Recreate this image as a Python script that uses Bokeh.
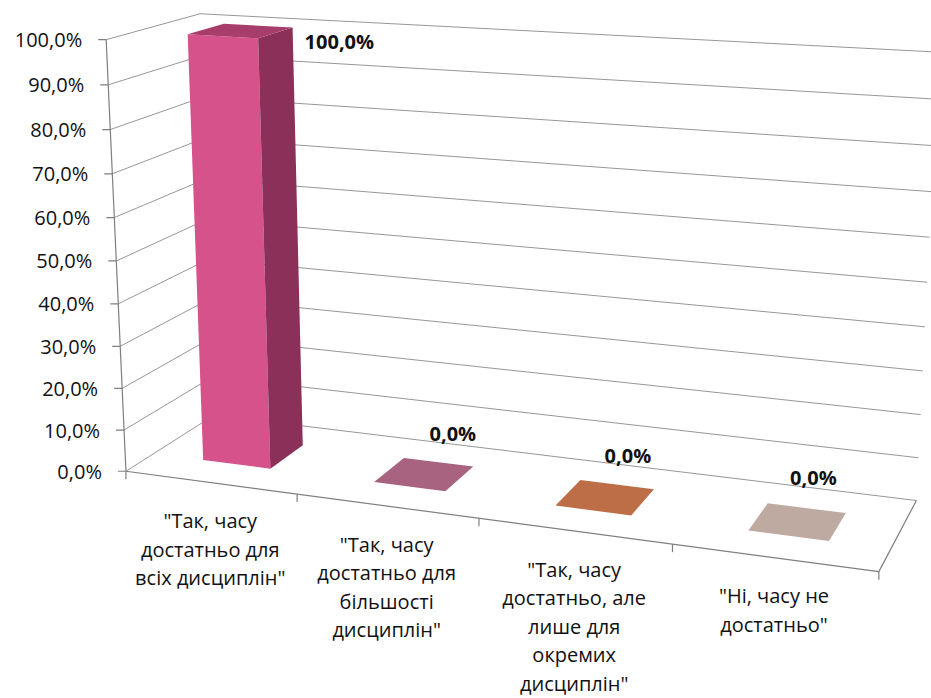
import numpy as np
from bokeh.plotting import figure
from bokeh.models import Range1d
from bokeh.embed import file_html
from bokeh.resources import INLINE
from bokeh.core.properties import value

# ---------------- data ----------------
categories = [
    '"Так, часу\nдостатньо для\nвсіх дисциплін"',
    '"Так, часу\nдостатньо для\nбільшості\nдисциплін"',
    '"Так, часу\nдостатньо, але\nлише для\nокремих\nдисциплін"',
    '"Ні, часу не\nдостатньо"',
]
values = [100.0, 0.0, 0.0, 0.0]
data_labels = ["100,0%", "0,0%", "0,0%", "0,0%"]
y_ticks = [0, 10, 20, 30, 40, 50, 60, 70, 80, 90, 100]
y_tick_labels = ["0,0%", "10,0%", "20,0%", "30,0%", "40,0%", "50,0%",
                 "60,0%", "70,0%", "80,0%", "90,0%", "100,0%"]

# ---------------- style ----------------
front_colors = ["#D5528A", "#A86380", "#BE6E46", "#BEAAA0"]
side_colors = ["#8A3059", "#7A4058", "#8A4E30", "#8E7E78"]
top_colors = ["#A63D6B", "#A86380", "#BE6E46", "#BEAAA0"]
grid_color = "#979797"
axis_color = "#7F7F7F"
text_color = "#111111"
FONT = "Open Sans"
bar_w = 0.40          # fraction of category width
bar_d0, bar_d1 = 0.30, 0.70   # depth extent of bars (0 = front, 1 = back wall)
N = len(categories)
VMAX = 100.0

# ---------------- 3-D camera (perspective, fitted from the frame geometry) ----
cal_world = []
cal_screen = []
front_v = [470, 428, 387, 346, 303, 260, 217, 173, 128, 83, 40]
back_v = [499, 456, 414, 370, 325, 282, 237, 192, 146, 99, 52]
for i, t in enumerate(y_ticks):
    z = t / VMAX
    cal_world.append((0, 0, z)); cal_screen.append((127 - 22 * z, front_v[i]))
    cal_world.append((N, 1, z)); cal_screen.append((916 + 22 * z, back_v[i]))
for k, (u, v) in zip([1, 2, 3, 4], [(295, 498), (478, 520), (670, 545), (879, 569)]):
    cal_world.append((k, 0, 0)); cal_screen.append((u, v))
cal_world.append((0, 1, 1)); cal_screen.append((200, 14))
cal_world.append((0, 1, 0)); cal_screen.append((212, 415))


def fit_camera(world, screen):
    rows = []
    for (X, Y, Z), (u, v) in zip(world, screen):
        u, v = u / 1000.0, v / 1000.0
        rows.append([X, Y, Z, 1, 0, 0, 0, 0, -u * X, -u * Y, -u * Z, -u])
        rows.append([0, 0, 0, 0, X, Y, Z, 1, -v * X, -v * Y, -v * Z, -v])
    _, _, vt = np.linalg.svd(np.array(rows, float))
    return vt[-1].reshape(3, 4)


P = fit_camera(cal_world, cal_screen)


def proj(X, Y, val):
    h = P @ np.array([X, Y, val / VMAX, 1.0])
    return 1000.0 * h[0] / h[2], 1000.0 * h[1] / h[2]


def poly(pts):
    xy = [proj(*q) for q in pts]
    return [a for a, _ in xy], [b for _, b in xy]


# ---------------- figure ----------------
W, H = 931, 698
p = figure(width=W, height=H, x_range=Range1d(0, W), y_range=Range1d(H, 0),
           output_backend="svg", toolbar_location=None, min_border=0)
p.axis.visible = False
p.grid.visible = False
p.outline_line_color = None
p.background_fill_color = "white"
p.border_fill_color = "white"

# gridlines on left wall and back wall
gx, gy = [], []
for t in y_ticks:
    a = proj(0, 0, t); b = proj(0, 1, t); c = proj(N, 1, t)
    gx.append([a[0], b[0], c[0]]); gy.append([a[1], b[1], c[1]])
p.multi_line(gx, gy, line_color=grid_color, line_width=1)

# floor edges
fx, fy = poly([(0, 0, 0), (N, 0, 0), (N, 1, 0)])
p.line(fx, fy, line_color=axis_color, line_width=1.2)
# value axis (front-left edge)
vx, vy = poly([(0, 0, 0), (0, 0, VMAX)])
p.line(vx, vy, line_color=axis_color, line_width=1.2)

# ticks
tx0, ty0, tx1, ty1 = [], [], [], []
for t in y_ticks:
    x, y = proj(0, 0, t)
    tx0.append(x); ty0.append(y); tx1.append(x - 8); ty1.append(y)
for k in range(N + 1):
    x, y = proj(k, 0, 0)
    tx0.append(x); ty0.append(y); tx1.append(x); ty1.append(y + 8)
p.segment(tx0, ty0, tx1, ty1, line_color=axis_color, line_width=1.2)

# y tick labels
lx, ly = zip(*[proj(0, 0, t) for t in y_ticks])
p.text([x - 24 for x in lx], list(ly), text=y_tick_labels, text_font=value(FONT),
       text_font_size="20px", text_color=text_color, text_align="right",
       text_baseline="middle")

# bars
for i, v in enumerate(values):
    x0 = i + 0.5 - bar_w / 2
    x1 = i + 0.5 + bar_w / 2
    if v > 0:
        xs, ys = poly([(x0, bar_d0, 0), (x1, bar_d0, 0), (x1, bar_d0, v), (x0, bar_d0, v)])
        p.patch(xs, ys, fill_color=front_colors[i], line_color=None)
        xs, ys = poly([(x1, bar_d0, 0), (x1, bar_d1, 0), (x1, bar_d1, v), (x1, bar_d0, v)])
        p.patch(xs, ys, fill_color=side_colors[i], line_color=None)
        xs, ys = poly([(x0, bar_d0, v), (x1, bar_d0, v), (x1, bar_d1, v), (x0, bar_d1, v)])
        p.patch(xs, ys, fill_color=top_colors[i], line_color=None)
    else:
        xs, ys = poly([(x0, bar_d0, 0), (x1, bar_d0, 0), (x1, bar_d1, 0), (x0, bar_d1, 0)])
        p.patch(xs, ys, fill_color=front_colors[i], line_color=None)

# data labels
for i, v in enumerate(values):
    x1 = i + 0.5 + bar_w / 2
    if v > 0:
        x, y = proj(x1, bar_d1, v)
        p.text([x + 12], [y + 14], text=[data_labels[i]], text_font=value(FONT),
               text_font_size="20px", text_font_style="bold", text_color=text_color,
               text_align="left", text_baseline="middle")
    else:
        x, y = proj(i + 0.5, 1, 0)
        p.text([x - 6], [y - 11], text=[data_labels[i]], text_font=value(FONT),
               text_font_size="20px", text_font_style="bold", text_color=text_color,
               text_align="center", text_baseline="middle")

# category labels
for i, lab in enumerate(categories):
    x, y = proj(i + 0.5, 0, 0)
    lines = lab.split("\n")
    p.text([x] * len(lines), [y + 38 + 28.5 * k for k in range(len(lines))], text=lines,
           text_font=value(FONT), text_font_size="20px", text_color=text_color,
           text_align="center", text_baseline="middle")

open("out.html", "w").write(file_html(p, INLINE))
